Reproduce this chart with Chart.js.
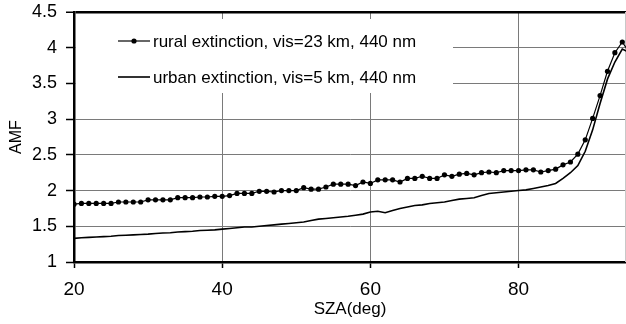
<!DOCTYPE html>
<html>
<head>
<meta charset="utf-8">
<script src="https://cdn.jsdelivr.net/npm/chart.js@4"></script>
<style>
  html, body { margin: 0; padding: 0; background: #fff; overflow: hidden; }
  #amfChart { display: block; }
</style>
</head>
<body>
<canvas id="amfChart" width="630" height="324"></canvas>
<script>
// solar zenith angle grid (deg)
const sza = [
  20, 21, 22, 23, 24, 25, 26, 27, 28, 29,
  30, 31, 32, 33, 34, 35, 36, 37, 38, 39,
  40, 41, 42, 43, 44, 45, 46, 47, 48, 49,
  50, 51, 52, 53, 54, 55, 56, 57, 58, 59,
  60, 61, 62, 63, 64, 65, 66, 67, 68, 69,
  70, 71, 72, 73, 74, 75, 76, 77, 78, 79,
  80, 81, 82, 83, 84, 85, 86, 87, 88, 89,
  90, 91, 92, 93, 94, 95,
];

const ruralAmf = [
  1.81, 1.82, 1.82, 1.82, 1.82, 1.82, 1.84, 1.84, 1.84, 1.84,
  1.87, 1.87, 1.87, 1.87, 1.90, 1.90, 1.90, 1.91, 1.91, 1.92,
  1.92, 1.93, 1.96, 1.96, 1.96, 1.99, 1.99, 1.98, 2.00, 2.00,
  2.00, 2.04, 2.02, 2.02, 2.05, 2.09, 2.09, 2.09, 2.07, 2.12,
  2.10, 2.15, 2.15, 2.15, 2.12, 2.17, 2.17, 2.20, 2.17, 2.17,
  2.22, 2.20, 2.23, 2.24, 2.22, 2.25, 2.26, 2.25, 2.28, 2.28,
  2.28, 2.29, 2.29, 2.26, 2.28, 2.30, 2.36, 2.40, 2.51, 2.71,
  3.01, 3.33, 3.67, 3.93, 4.08, 3.92,
];

const urbanAmf = [
  1.33, 1.34, 1.345, 1.35, 1.355, 1.36, 1.37, 1.375, 1.38, 1.385,
  1.39, 1.40, 1.405, 1.41, 1.42, 1.425, 1.43, 1.44, 1.445, 1.45,
  1.46, 1.47, 1.48, 1.49, 1.49, 1.50, 1.51, 1.52, 1.53, 1.54,
  1.55, 1.56, 1.58, 1.60, 1.61, 1.62, 1.63, 1.64, 1.655, 1.67,
  1.70, 1.71, 1.69, 1.72, 1.75, 1.77, 1.79, 1.80, 1.82, 1.83,
  1.84, 1.86, 1.88, 1.89, 1.90, 1.93, 1.96, 1.97, 1.98, 1.99,
  2.00, 2.01, 2.03, 2.05, 2.07, 2.10, 2.17, 2.25, 2.35, 2.55,
  2.85, 3.22, 3.56, 3.80, 3.98, 3.93,
];

const xTicks = [20, 40, 60, 80];
const yTicks = [1, 1.5, 2, 2.5, 3, 3.5, 4, 4.5];

const seriesLabels = [
  "rural extinction, vis=23 km, 440 nm",
  "urban extinction, vis=5 km, 440 nm",
];

const FONT = "'Liberation Sans', Arial, Helvetica, sans-serif";

function toPoints(values) {
  return sza.map((x, i) => ({ x: x, y: values[i] }));
}

// legend sits inside the plot on a white patch, plus thin right frame
const insideLegend = {
  id: "insideLegend",
  beforeDatasetsDraw(chart) {
    const { ctx, chartArea } = chart;
    const left = chartArea.left;
    const top = chartArea.top;
    ctx.save();

    ctx.strokeStyle = "#c8c8c8";
    ctx.lineWidth = 1;
    ctx.beginPath();
    ctx.moveTo(chartArea.right - 0.5, top);
    ctx.lineTo(chartArea.right - 0.5, chartArea.bottom);
    ctx.stroke();

    ctx.fillStyle = "#fff";
    ctx.fillRect(left + 2, top + 7, 377, 74);

    const rows = [top + 29, top + 65];
    chart.data.datasets.forEach((ds, i) => {
      const y = rows[i];
      ctx.strokeStyle = ds.borderColor;
      ctx.lineWidth = ds.borderWidth;
      ctx.beginPath();
      ctx.moveTo(left + 44, y);
      ctx.lineTo(left + 76, y);
      ctx.stroke();
      if (ds.pointRadius > 0) {
        ctx.fillStyle = ds.pointBackgroundColor;
        ctx.beginPath();
        ctx.arc(left + 60, y, ds.pointRadius, 0, Math.PI * 2);
        ctx.fill();
      }
      ctx.fillStyle = "#000";
      ctx.font = `17px ${FONT}`;
      ctx.textAlign = "left";
      ctx.textBaseline = "middle";
      ctx.fillText(ds.label, left + 79, y + 1);
    });
    ctx.restore();
  },
};

const ctx = document.getElementById("amfChart").getContext("2d");
new Chart(ctx, {
  type: "line",
  data: {
    datasets: [
      {
        label: seriesLabels[0],
        data: toPoints(ruralAmf),
        borderColor: "#000",
        borderWidth: 1.2,
        pointRadius: 2.6,
        pointBackgroundColor: "#000",
        pointBorderWidth: 0,
        tension: 0,
      },
      {
        label: seriesLabels[1],
        data: toPoints(urbanAmf),
        borderColor: "#000",
        borderWidth: 1.6,
        pointRadius: 0,
        tension: 0,
      },
    ],
  },
  options: {
    responsive: false,
    animation: false,
    layout: { padding: { top: 12, right: 1, bottom: 0, left: 0 } },
    plugins: {
      legend: { display: false },
      tooltip: { enabled: false },
    },
    scales: {
      x: {
        type: "linear",
        min: 20,
        max: 94.5,
        afterBuildTicks: (scale) => {
          scale.ticks = xTicks.map((v) => ({ value: v }));
        },
        afterFit: (scale) => {
          scale.height = 62;
          scale.paddingLeft = 0;
          scale.paddingRight = 0;
        },
        ticks: {
          color: "#000",
          padding: 10,
          font: { family: FONT, size: 19 },
          callback: (v) => String(v),
        },
        grid: {
          color: "#7a7a7a",
          lineWidth: 1,
          tickLength: 6,
          tickColor: "#000",
          tickWidth: 1.5,
        },
        border: { color: "#000", width: 2.5 },
        title: {
          display: true,
          text: "SZA(deg)",
          color: "#000",
          font: { family: FONT, size: 17 },
          padding: { top: 0, bottom: 4 },
        },
      },
      y: {
        min: 1,
        max: 4.5,
        afterBuildTicks: (scale) => {
          scale.ticks = yTicks.map((v) => ({ value: v }));
        },
        afterFit: (scale) => {
          scale.width = 74;
          scale.paddingTop = 0;
          scale.paddingBottom = 0;
        },
        ticks: {
          color: "#000",
          padding: 9,
          font: { family: FONT, size: 18 },
          callback: (v) => String(v),
        },
        grid: {
          color: (c) => (c.tick && c.tick.value === 4.5 ? "#000" : "#7a7a7a"),
          lineWidth: (c) => (c.tick && c.tick.value === 4.5 ? 2.5 : 1),
          tickLength: 8,
          tickColor: "#000",
          tickWidth: 1.5,
        },
        border: { color: "#000", width: 2.5 },
        title: {
          display: true,
          text: "AMF",
          color: "#000",
          font: { family: FONT, size: 16 },
          padding: { top: 7, bottom: 0 },
        },
      },
    },
  },
  plugins: [insideLegend],
});
</script>
</body>
</html>
